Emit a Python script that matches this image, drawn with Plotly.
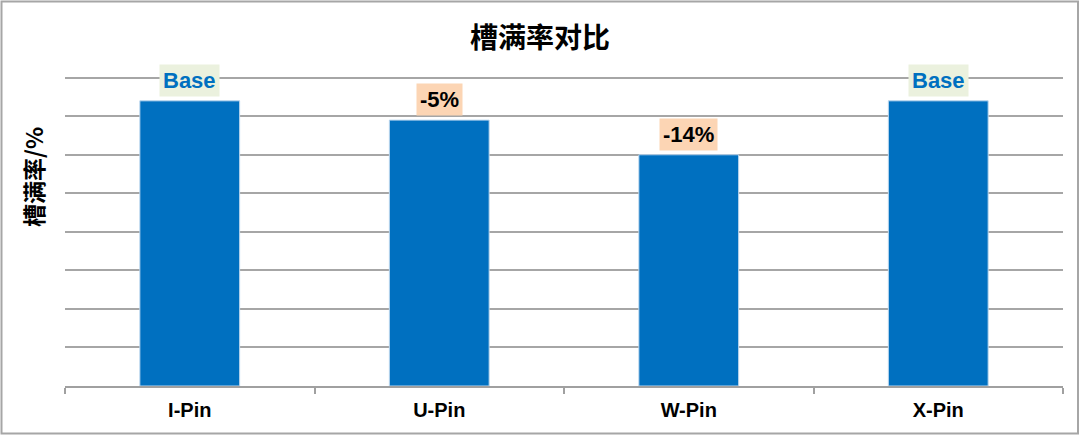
import plotly.graph_objects as go

categories = ["I-Pin", "U-Pin", "W-Pin", "X-Pin"]
fill_rate = [74, 69, 60, 74]
labels = ["Base", "-5%", "-14%", "Base"]

title_text = "槽满率对比"
y_title = "槽满率/%"

W, H = 1080, 435
L, R, T, B = 65, 17, 70, 49

fig = go.Figure()
fig.add_trace(go.Bar(
    x=categories, y=fill_rate, width=0.4,
    marker=dict(color="#0070C0", line=dict(color="#BDD7EE", width=1)),
    hoverinfo="skip",
))

for c, v, t in zip(categories, fill_rate, labels):
    is_base = t == "Base"
    fig.add_annotation(
        x=c, y=v, xref="x", yref="y", text="<b>%s</b>" % t,
        showarrow=False, yanchor="bottom", yshift=4,
        font=dict(family="Liberation Sans, Arial", size=22,
                  color="#0070C0" if is_base else "#000000"),
        bgcolor="#EBF1DE" if is_base else "#FCD5B4",
        borderpad=3,
    )

pw = W - L - R
ph = H - T - B
# y-axis title as annotation
fig.add_annotation(
    x=(33 - L) / pw, y=(H - B - 177) / ph, xref="paper", yref="paper",
    text="<b>%s</b>" % y_title, textangle=-90, showarrow=False,
    font=dict(family="Noto Sans CJK SC", size=23, color="#000000"),
    xanchor="center", yanchor="middle",
)
# outer border
fig.add_shape(
    type="rect", xref="paper", yref="paper",
    x0=(1.5 - L) / pw, x1=(1078 - L) / pw,
    y0=(H - B - 433.5) / ph, y1=(H - B - 1.5) / ph,
    line=dict(color="#A6A6A6", width=2), fillcolor="rgba(0,0,0,0)", layer="below",
)

fig.update_layout(
    width=W, height=H,
    margin=dict(l=L, r=R, t=T, b=B),
    paper_bgcolor="white", plot_bgcolor="white",
    showlegend=False,
    title=dict(text="<b>%s</b>" % title_text, x=0.5, xanchor="center",
               y=1 - 38 / H, yanchor="middle",
               font=dict(family="Noto Sans CJK SC", size=28, color="#000000")),
    xaxis=dict(
        showline=True, linecolor="#A0A0A0", linewidth=2,
        ticks="outside", tickson="boundaries", ticklen=6, tickcolor="#A0A0A0", tickwidth=2,
        tickfont=dict(family="Liberation Sans, Arial", size=20, color="#000000"),
        tickprefix="<b>", ticksuffix="</b>",
        ticklabelstandoff=5,
        showgrid=False,
    ),
    yaxis=dict(
        range=[0, 82], tick0=0, dtick=10, showticklabels=False,
        showgrid=True, gridcolor="#A6A6A6", gridwidth=2,
        zeroline=False, showline=False, ticks="",
    ),
)

fig.write_html("out.html", config={"displayModeBar": False},
               post_script="document.body.style.margin='0';document.body.style.overflow='hidden';")
